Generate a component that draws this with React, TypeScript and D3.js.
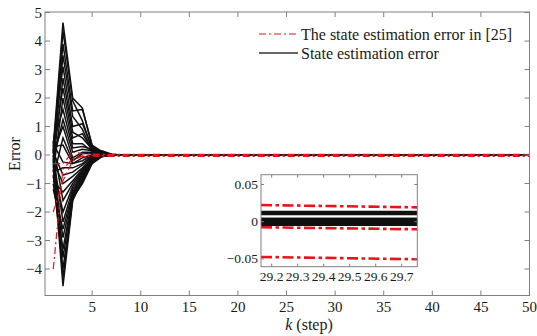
import React from 'react';
import * as d3 from 'd3';

// ---------- data ----------
const steps = [1, 2, 3, 4, 5, 6, 7, 8];
const lastStep = 50;

// black: state estimation error components, values at k = 1..8
const blackSeries: number[][] = [
  [0.30, 4.65, 2.00, 1.65, 0.30, 0.10, 0.02, 0.00],
  [0.15, 4.35, 1.90, 1.20, 0.20, 0.05, 0.01, 0.00],
  [0.05, 3.90, 1.55, 1.60, 0.35, 0.12, 0.03, 0.00],
  [-0.10, 3.50, 1.35, 0.90, 0.15, 0.05, 0.00, 0.00],
  [0.40, 3.10, 1.00, 1.10, 0.25, 0.10, 0.02, 0.00],
  [-0.30, 2.70, 0.80, 0.60, 0.20, 0.08, 0.01, 0.00],
  [0.20, 2.35, 0.60, 0.75, 0.18, 0.15, 0.03, 0.00],
  [-0.60, 2.00, 0.40, 0.40, 0.12, 0.06, 0.01, 0.00],
  [0.45, 1.60, 0.25, 0.30, 0.20, 0.10, 0.02, 0.00],
  [-0.20, 1.25, 0.10, 0.20, 0.15, 0.05, 0.00, 0.00],
  [0.10, 1.00, -0.10, 0.10, 0.10, 0.08, 0.02, 0.00],
  [-0.80, 0.60, -0.20, 0.05, 0.05, 0.03, 0.00, 0.00],
  [0.30, 0.35, -0.30, -0.10, 0.00, 0.02, 0.00, 0.00],
  [-0.30, -4.60, -1.60, -0.85, -0.20, -0.02, 0.00, 0.00],
  [-0.10, -4.30, -1.55, -0.95, -0.25, -0.05, 0.00, 0.00],
  [-0.70, -4.00, -1.50, -1.00, -0.30, -0.06, -0.01, 0.00],
  [0.20, -3.60, -1.45, -0.80, -0.22, -0.04, 0.00, 0.00],
  [-1.00, -3.30, -1.40, -0.90, -0.28, -0.05, -0.01, 0.00],
  [-0.50, -2.90, -1.35, -0.75, -0.18, -0.03, 0.00, 0.00],
  [-1.20, -2.60, -1.30, -0.70, -0.20, -0.04, 0.00, 0.00],
  [0.00, -2.35, -1.20, -0.65, -0.15, -0.02, 0.00, 0.00],
  [-0.40, -2.00, -1.10, -0.60, -0.16, -0.03, 0.00, 0.00],
  [0.35, -1.60, -1.00, -0.55, -0.12, 0.00, 0.00, 0.00],
  [-0.90, -1.30, -0.90, -0.50, -0.10, 0.02, 0.00, 0.00],
  [-0.20, -1.00, -0.75, -0.45, -0.08, 0.03, 0.00, 0.00],
  [0.10, -0.70, -0.60, -0.35, -0.05, 0.05, 0.01, 0.00],
  [-0.60, -0.45, -0.45, -0.30, -0.02, 0.06, 0.01, 0.00],
  [0.40, -0.25, -0.30, -0.20, 0.00, 0.05, 0.00, 0.00],
];
// steady-state value of each black component
const blackSteady = [
  0.0130, 0.0105, 0.0038, 0.0035, 0.0032, 0.0029, 0.0026, 0.0023, 0.0020,
  0.0017, 0.0014, 0.0011, 0.0008, 0.0005, 0.0002, -0.0001, -0.0004, -0.0007,
  -0.0010, -0.0013, -0.0016, -0.0019, -0.0022, -0.0025, -0.0029, -0.0033,
  -0.0037, -0.0042,
];

// red: state estimation error in [25], values at k = 1..8
const redSeries: number[][] = [
  [-4.00, -0.50, -0.12, -0.05, -0.04, -0.05, -0.05, -0.05],
  [-2.00, -0.90, -0.20, -0.03, 0.00, -0.01, -0.01, -0.01],
  [-0.30, -0.30, 0.10, 0.05, 0.03, 0.02, 0.02, 0.02],
];
const redSteady = [-0.049, -0.009, 0.021];

const xTicks = [5, 10, 15, 20, 25, 30, 35, 40, 45, 50];
const yTicks = [-4, -3, -2, -1, 0, 1, 2, 3, 4, 5];

// inset (zoom on k in 29.16..29.76)
const insetSteps = [29.159, 29.76];
const insetRedStart = [0.0224, -0.0075, -0.0474];
const insetRedEnd = [0.0193, -0.0102, -0.0505];
const insetXTicks = [29.2, 29.3, 29.4, 29.5, 29.6, 29.7];
const insetYTicks = [-0.05, 0, 0.05];

const legendLabels = ['The state estimation error in [25]', 'State estimation error'];

// ---------- drawing ----------
const W = 537;
const H = 336;
const FONT = '"Liberation Serif", "Times New Roman", serif';
const AX = '#808080';
const TXT = '#1a1a1a';
const RED = '#e8141c';

const fmt = (v: number, d: number) => {
  const s = v.toFixed(d);
  return v < 0 ? '\u2212' + s.slice(1) : s;
};

export default function App() {
  const x = d3.scaleLinear().domain([0.15, 50]).range([45, 529.5]);
  const y = d3.scaleLinear().domain([-4.93, 5.02]).range([295.5, 12]);
  const [x0, x1] = x.range();
  const [y0, y1] = y.range();

  const line = d3
    .line<[number, number]>()
    .x((d) => x(d[0]))
    .y((d) => y(d[1]));

  const toPts = (vals: number[], steady: number): [number, number][] => [
    ...steps.map((k, i) => [k, vals[i]] as [number, number]),
    [lastStep, steady],
  ];

  // inset scales
  const ix = d3.scaleLinear().domain([29.159, 29.76]).range([261, 417.3]);
  const iy = d3.scaleLinear().domain([-0.0605, 0.0632]).range([266.7, 174.7]);
  const [ix0, ix1] = ix.range();
  const [iy0, iy1] = iy.range();
  const iline = d3
    .line<[number, number]>()
    .x((d) => ix(d[0]))
    .y((d) => iy(d[1]));

  const tl = 5;
  const itl = 3;

  return (
    <svg
      width={W}
      height={H}
      viewBox={`0 0 ${W} ${H}`}
      style={{ position: 'absolute', left: 0, top: 0, background: '#fff' }}
      fontFamily={FONT}
    >
      <rect x={0} y={0} width={W} height={H} fill="#fff" />

      {/* black lines */}
      <g fill="none" stroke="#111" strokeWidth={1.5} strokeLinejoin="miter">
        {blackSeries.map((s, i) => (
          <path key={i} d={line(toPts(s, blackSteady[i])) || ''} />
        ))}
      </g>
      {/* red dash-dot lines */}
      <g fill="none" stroke={RED} strokeWidth={1.2} strokeDasharray="7,3,2,3">
        {redSeries.map((s, i) => (
          <path key={i} d={line(toPts(s, redSteady[i])) || ''} />
        ))}
      </g>

      {/* frame */}
      <rect x={x0} y={y1} width={x1 - x0} height={y0 - y1} fill="none" stroke={AX} strokeWidth={1} />
      {/* x ticks */}
      <g stroke={AX} strokeWidth={1}>
        {xTicks.map((t) => (
          <g key={t}>
            <line x1={x(t)} x2={x(t)} y1={y0} y2={y0 - tl} />
            <line x1={x(t)} x2={x(t)} y1={y1} y2={y1 + tl} />
          </g>
        ))}
        {yTicks.map((t) => (
          <g key={t}>
            <line x1={x0} x2={x0 + tl} y1={y(t)} y2={y(t)} />
            <line x1={x1} x2={x1 - tl} y1={y(t)} y2={y(t)} />
          </g>
        ))}
      </g>
      <g fill={TXT} fontSize={15}>
        {xTicks.map((t) => (
          <text key={t} x={x(t)} y={311.5} textAnchor="middle">
            {t}
          </text>
        ))}
        {yTicks.map((t) => (
          <text key={t} x={x0 - 3} y={y(t) + 5} textAnchor="end">
            {fmt(t, 0)}
          </text>
        ))}
      </g>
      <text x={309} y={330} textAnchor="middle" fontSize={16} fill={TXT}>
        <tspan fontStyle="italic">k</tspan> (step)
      </text>
      <text
        transform={`translate(20,154) rotate(-90)`}
        textAnchor="middle"
        fontSize={16}
        fill={TXT}
      >
        Error
      </text>

      {/* legend */}
      <g>
        <line x1={259} x2={298} y1={34} y2={34} stroke={RED} strokeWidth={1.2} strokeDasharray="7,3,2,3" />
        <text x={301} y={39.5} fontSize={16} fill={TXT}>
          {legendLabels[0]}
        </text>
        <line x1={259} x2={298} y1={53} y2={53} stroke="#333" strokeWidth={1.3} />
        <text x={301} y={58.5} fontSize={16} fill={TXT}>
          {legendLabels[1]}
        </text>
      </g>

      {/* inset */}
      <g>
        <rect x={ix0} y={iy1} width={ix1 - ix0} height={iy0 - iy1} fill="#fff" />
        <defs>
          <clipPath id="insetClip">
            <rect x={ix0} y={iy1} width={ix1 - ix0} height={iy0 - iy1} />
          </clipPath>
        </defs>
        <g clipPath="url(#insetClip)">
          <g fill="none" stroke="#111" strokeWidth={2.5}>
            {blackSteady.map((v, i) => (
              <path
                key={i}
                d={iline([
                  [insetSteps[0], v],
                  [insetSteps[1], v],
                ]) || ''}
              />
            ))}
          </g>
          <g fill="none" stroke={RED} strokeWidth={2.6} strokeDasharray="11,3.5,3.5,3.5">
            {insetRedStart.map((v, i) => (
              <path
                key={i}
                d={iline([
                  [insetSteps[0], v],
                  [insetSteps[1], insetRedEnd[i]],
                ]) || ''}
              />
            ))}
          </g>
        </g>
        <rect x={ix0} y={iy1} width={ix1 - ix0} height={iy0 - iy1} fill="none" stroke={AX} strokeWidth={1} />
        <g stroke={AX} strokeWidth={1}>
          {insetXTicks.map((t) => (
            <g key={t}>
              <line x1={ix(t)} x2={ix(t)} y1={iy0} y2={iy0 - itl} />
              <line x1={ix(t)} x2={ix(t)} y1={iy1} y2={iy1 + itl} />
            </g>
          ))}
          {insetYTicks.map((t) => (
            <g key={t}>
              <line x1={ix0} x2={ix0 + itl} y1={iy(t)} y2={iy(t)} />
              <line x1={ix1} x2={ix1 - itl} y1={iy(t)} y2={iy(t)} />
            </g>
          ))}
        </g>
        <g fill={TXT} fontSize={13.5}>
          {insetXTicks.map((t) => (
            <text key={t} x={ix(t)} y={281} textAnchor="middle">
              {t.toFixed(1)}
            </text>
          ))}
          {insetYTicks.map((t) => (
            <text key={t} x={ix0 - 3} y={iy(t) + 4.5} textAnchor="end">
              {t === 0 ? '0' : fmt(t, 2)}
            </text>
          ))}
        </g>
      </g>
    </svg>
  );
}
